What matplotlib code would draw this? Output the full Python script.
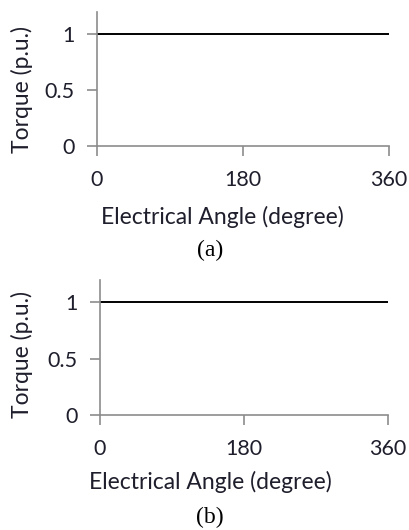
import matplotlib
matplotlib.use("Agg")
import matplotlib.pyplot as plt

# data: constant torque over one electrical period
angle = [0, 360]
torque_a = [1, 1]
torque_b = [1, 1]

xticks = [0, 180, 360]
yticks = [0, 0.5, 1]
ytick_labels = ["0", "0.5", "1"]
panel_labels = ["(a)", "(b)"]

text_color = "#1e1e2c"
axis_color = "#8c8c8c"
tick_size = 15.5
label_size = 16.5

fig = plt.figure(figsize=(4.09, 5.30), dpi=100)

boxes = [
    (0.237, 0.7245, 0.714, 0.2525),
    (0.2445, 0.217, 0.704, 0.255),
]
xlabel_pos = [(0.43, -0.53), (0.385, -0.496)]
ylabel_pos = [(-0.257, 0.425), (-0.27, 0.444)]
caption_pos = [(0.513, 0.528), (0.513, 0.0245)]

for i, torque in enumerate([torque_a, torque_b]):
    ax = fig.add_axes(boxes[i])
    ax.plot(angle, torque, color="black", lw=1.4, solid_capstyle="butt")
    ax.set_xlim(0, 360)
    ax.set_ylim(0, 1.2)

    for side in ("top", "right"):
        ax.spines[side].set_visible(False)
    for side in ("left", "bottom"):
        ax.spines[side].set_color(axis_color)
        ax.spines[side].set_linewidth(1.2)

    ax.set_xticks(xticks)
    ax.set_yticks(yticks)
    ax.set_yticklabels(ytick_labels)
    ax.tick_params(axis="both", direction="out", length=7, width=1.2,
                   color=axis_color, labelcolor=text_color, labelsize=tick_size)
    ax.tick_params(axis="x", pad=10)
    ax.tick_params(axis="y", pad=9)
    for t in ax.get_xticklabels() + ax.get_yticklabels():
        t.set_family("Lato")

    ax.set_xlabel("Electrical Angle (degree)", family="Lato", fontsize=label_size,
                  color=text_color, va="center")
    ax.set_ylabel("Torque (p.u.)", family="Lato", fontsize=label_size,
                  color=text_color, va="center")
    ax.xaxis.set_label_coords(*xlabel_pos[i])
    ax.yaxis.set_label_coords(*ylabel_pos[i])

    fig.text(caption_pos[i][0], caption_pos[i][1], panel_labels[i],
             family="Liberation Serif", fontsize=17,
             ha="center", va="center", color="black")

fig.savefig("out.png", dpi=100)
